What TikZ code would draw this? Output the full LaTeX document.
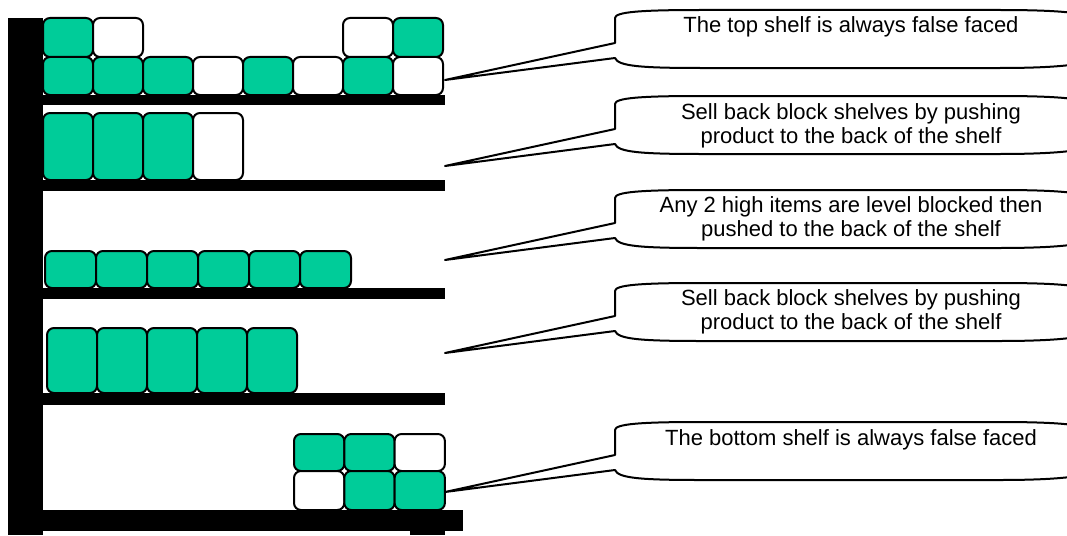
\documentclass[tikz,border=0pt]{standalone}
\usepackage{fontspec}
\setmainfont{Liberation Sans}
\definecolor{prodgreen}{RGB}{0,204,153}
\newcommand\calloutshape[2]{%
  \draw[callout] (615,#1+33) -- (#2) -- (615,#1+48)
    .. controls (618,#1+56) and (640,#1+58) .. (700,#1+58)
    -- (1000,#1+58) .. controls (1060,#1+58) and (1085,#1+54) .. (1090,#1+50)
    -- (1090,#1+8) .. controls (1085,#1+3) and (1060,#1) .. (1000,#1)
    -- (700,#1) .. controls (640,#1) and (615,#1+2) .. (615,#1+8) -- cycle;}
\begin{document}
\begin{tikzpicture}[x=1pt,y=-1pt,
  prod/.style={draw=black, line width=2pt, rounded corners=7pt},
  rack/.style={fill=black},
  callout/.style={draw=black, line width=2pt, fill=white, line join=round},
  calltext/.style={font=\fontsize{22}{24}\selectfont, align=center, inner sep=0pt}]
\useasboundingbox (0,0) rectangle (1067,535);
% rack
\fill[rack] (8,18) rectangle (43,535);
\fill[rack] (43,95) rectangle (445,105);
\fill[rack] (43,180) rectangle (445,191);
\fill[rack] (43,288) rectangle (445,299);
\fill[rack] (43,393) rectangle (445,405);
\fill[rack] (43,510) rectangle (463,531);
\fill[rack] (410,531) rectangle (445,535);
% shelf 1
\foreach \i/\c in {0/prodgreen,1/prodgreen,2/prodgreen,3/white,4/prodgreen,5/white,6/prodgreen,7/white}
  \draw[prod, fill=\c] ({43+50*\i},57) rectangle ({93+50*\i},95);
\foreach \i/\c in {0/prodgreen,1/white,6/white,7/prodgreen}
  \draw[prod, fill=\c] ({43+50*\i},18) rectangle ({93+50*\i},57);
% shelf 2
\foreach \i/\c in {0/prodgreen,1/prodgreen,2/prodgreen,3/white}
  \draw[prod, fill=\c] ({43+50*\i},113) rectangle ({93+50*\i},180);
% shelf 3
\foreach \i in {0,...,5}
  \draw[prod, fill=prodgreen] ({45+51*\i},251) rectangle ({96+51*\i},288);
% shelf 4
\foreach \i in {0,...,4}
  \draw[prod, fill=prodgreen] ({47+50*\i},328) rectangle ({97+50*\i},393);
% bottom shelf
\foreach \i/\c in {0/prodgreen,1/prodgreen,2/white}
  \draw[prod, fill=\c] ({294+50.3*\i},434) rectangle ({344.3+50.3*\i},471);
\foreach \i/\c in {0/white,1/prodgreen,2/prodgreen}
  \draw[prod, fill=\c] ({294+50.3*\i},471) rectangle ({344.3+50.3*\i},510);
% callout tips
\coordinate (tip1) at (445,80);
\coordinate (tip2) at (445,166);
\coordinate (tip3) at (445,260);
\coordinate (tip4) at (445,353);
\coordinate (tip5) at (445,492);
\begin{scope}
\clip (0,0) rectangle (1067,535);
\calloutshape{10}{tip1}
\calloutshape{96}{tip2}
\calloutshape{190}{tip3}
\calloutshape{283}{tip4}
\calloutshape{422}{tip5}
\end{scope}
\node[calltext] (t1) at (851,27) {The top shelf is always false faced};
\node[calltext] (t2) at (851,125.5) {Sell back block shelves by pushing\\product to the back of the shelf};
\node[calltext] (t3) at (851,218.5) {Any 2 high items are level blocked then\\pushed to the back of the shelf};
\node[calltext] (t4) at (851,311.5) {Sell back block shelves by pushing\\product to the back of the shelf};
\node[calltext] (t5) at (851,440) {The bottom shelf is always false faced};
\end{tikzpicture}
\end{document}
